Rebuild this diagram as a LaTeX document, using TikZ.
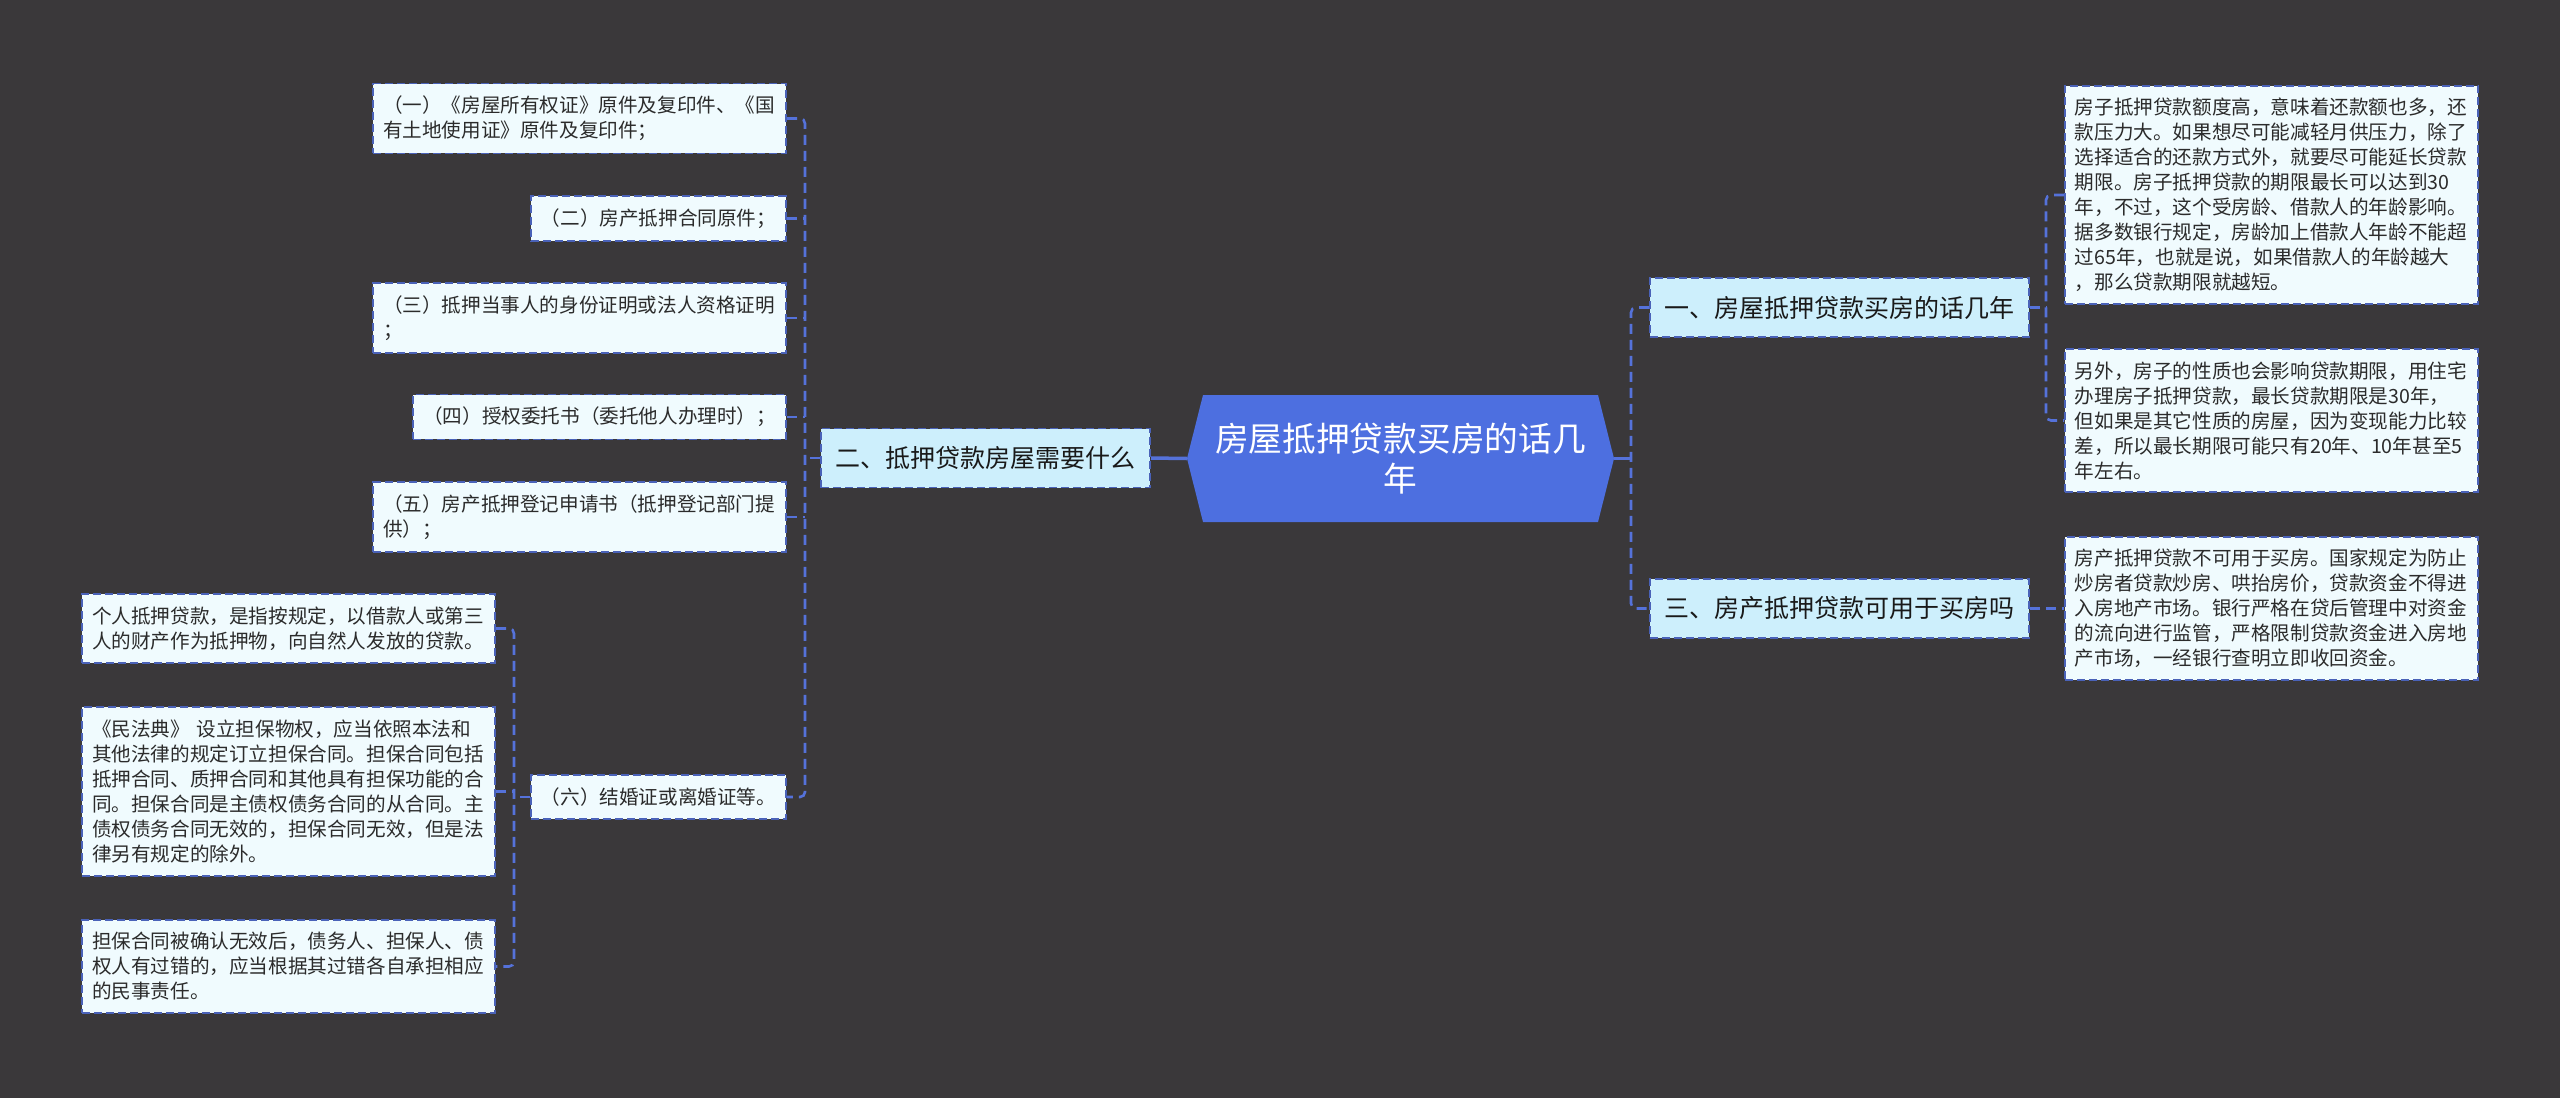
\documentclass[tikz,border=0pt]{standalone}
\usepackage{fontspec}
\newfontfamily\cjk{Noto Sans CJK SC}
\definecolor{bgc}{HTML}{3A383A}
\definecolor{cblue}{HTML}{4D6FE0}
\definecolor{lvl}{HTML}{CDEFFC}
\definecolor{leaf}{HTML}{F0FBFE}
\definecolor{bord}{HTML}{4A62B8}
\definecolor{conc}{HTML}{5572DA}
\definecolor{txt}{HTML}{2B2B2B}
\tikzset{
 leafbox/.style={draw=bord, fill=leaf, line width=1.8pt, dash pattern=on 8pt off 4pt,
   font=\cjk\fontsize{19.6}{25}\selectfont, text=txt, align=left, inner xsep=10pt, inner ysep=12.5pt},
 wide/.style={text width=393pt},
 lvlbox/.style={draw=bord, fill=lvl, line width=1.8pt, dash pattern=on 8pt off 4pt,
   font=\cjk\fontsize{25}{30}\selectfont, text=black!90, inner xsep=14.5pt, minimum height=59pt},
 conn/.style={draw=conc, line width=2.6pt, dash pattern=on 10pt off 6pt, rounded corners=5pt},
 solidconn/.style={draw=conc, line width=3.5pt},
 centraltext/.style={font=\cjk\fontsize{33.7}{40}\selectfont, text=white, align=center},
}
\begin{document}
\begin{tikzpicture}[x=1pt,y=-1pt]
\useasboundingbox (0,0) rectangle (2560,1098);
\fill[bgc] (0,0) rectangle (2560,1098);

% central hexagon
\coordinate (cL) at (1187,458.5);
\coordinate (cR) at (1614,458.5);
\fill[cblue] (1203,395) -- (cL) -- (1203,522) -- (1598,522) -- (cR) -- (1598,395) -- cycle;
\node[centraltext] (c) at (1400.5,458.5) {房屋抵押贷款买房的话几\\年};

% level 2
\node[lvlbox, anchor=west] (n1) at (1649,307.5) {一、房屋抵押贷款买房的话几年};
\node[lvlbox, anchor=east] (n2) at (1151,458) {二、抵押贷款房屋需要什么};
\node[lvlbox, anchor=west] (n3) at (1649,608.5) {三、房产抵押贷款可用于买房吗};

% right leaves
\node[leafbox, wide, anchor=west] (A) at (2064,195) {房子抵押贷款额度高，意味着还款额也多，还\\款压力大。如果想尽可能减轻月供压力，除了\\选择适合的还款方式外，就要尽可能延长贷款\\期限。房子抵押贷款的期限最长可以达到30\\年，不过，这个受房龄、借款人的年龄影响。\\据多数银行规定，房龄加上借款人年龄不能超\\过65年，也就是说，如果借款人的年龄越大\\，那么贷款期限就越短。};
\node[leafbox, wide, anchor=west] (B) at (2064,420.5) {另外，房子的性质也会影响贷款期限，用住宅\\办理房子抵押贷款，最长贷款期限是30年，\\但如果是其它性质的房屋，因为变现能力比较\\差，所以最长期限可能只有20年、10年甚至5\\年左右。};
\node[leafbox, wide, anchor=west] (C) at (2064,608.5) {房产抵押贷款不可用于买房。国家规定为防止\\炒房者贷款炒房、哄抬房价，贷款资金不得进\\入房地产市场。银行严格在贷后管理中对资金\\的流向进行监管，严格限制贷款资金进入房地\\产市场，一经银行查明立即收回资金。};

% left leaves
\node[leafbox, wide, anchor=east] (b1) at (787,118.5) {（一）《房屋所有权证》原件及复印件、《国\\有土地使用证》原件及复印件；};
\node[leafbox, anchor=east] (b2) at (787,218.5) {（二）房产抵押合同原件；};
\node[leafbox, wide, anchor=east] (b3) at (787,318) {（三）抵押当事人的身份证明或法人资格证明\\；};
\node[leafbox, anchor=east] (b4) at (787,417) {（四）授权委托书（委托他人办理时）；};
\node[leafbox, wide, anchor=east] (b5) at (787,517) {（五）房产抵押登记申请书（抵押登记部门提\\供）；};
\node[leafbox, anchor=east] (b6) at (787,797) {（六）结婚证或离婚证等。};

\node[leafbox, wide, anchor=east] (L1) at (496,628.5) {个人抵押贷款，是指按规定，以借款人或第三\\人的财产作为抵押物，向自然人发放的贷款。};
\node[leafbox, wide, anchor=east] (L2) at (496,791.5) {《民法典》 设立担保物权，应当依照本法和\\其他法律的规定订立担保合同。担保合同包括\\抵押合同、质押合同和其他具有担保功能的合\\同。担保合同是主债权债务合同的从合同。主\\债权债务合同无效的，担保合同无效，但是法\\律另有规定的除外。};
\node[leafbox, wide, anchor=east] (L3) at (496,966.5) {担保合同被确认无效后，债务人、担保人、债\\权人有过错的，应当根据其过错各自承担相应\\的民事责任。};

% connectors
\coordinate (jl) at (805,458);
\coordinate (jr) at (1631,458.5);
\coordinate (ja) at (2046,307.5);
\coordinate (j6) at (514,797);

\draw[solidconn] (cL) -- (n2.east);
\draw[solidconn] (cR) -- (jr);
\draw[conn] (n1.west) -| (jr) |- (n3.west);
\draw[conn] (n1.east) -- (ja);
\draw[conn] (A.west) -| (ja) |- (B.west);
\draw[conn] (n3.east) -- (C.west);

\draw[conn] (n2.west) -- (jl);
\draw[conn] (b1.east) -| (jl) |- (b6.east);
\draw[conn] (b2.east) -- (b2.east -| jl);
\draw[conn] (b3.east) -- (b3.east -| jl);
\draw[conn] (b4.east) -- (b4.east -| jl);
\draw[conn] (b5.east) -- (b5.east -| jl);

\draw[conn] (b6.west) -- (j6);
\draw[conn] (L1.east) -| (j6) |- (L3.east);
\draw[conn] (L2.east) -- (L2.east -| j6);
\end{tikzpicture}
\end{document}
